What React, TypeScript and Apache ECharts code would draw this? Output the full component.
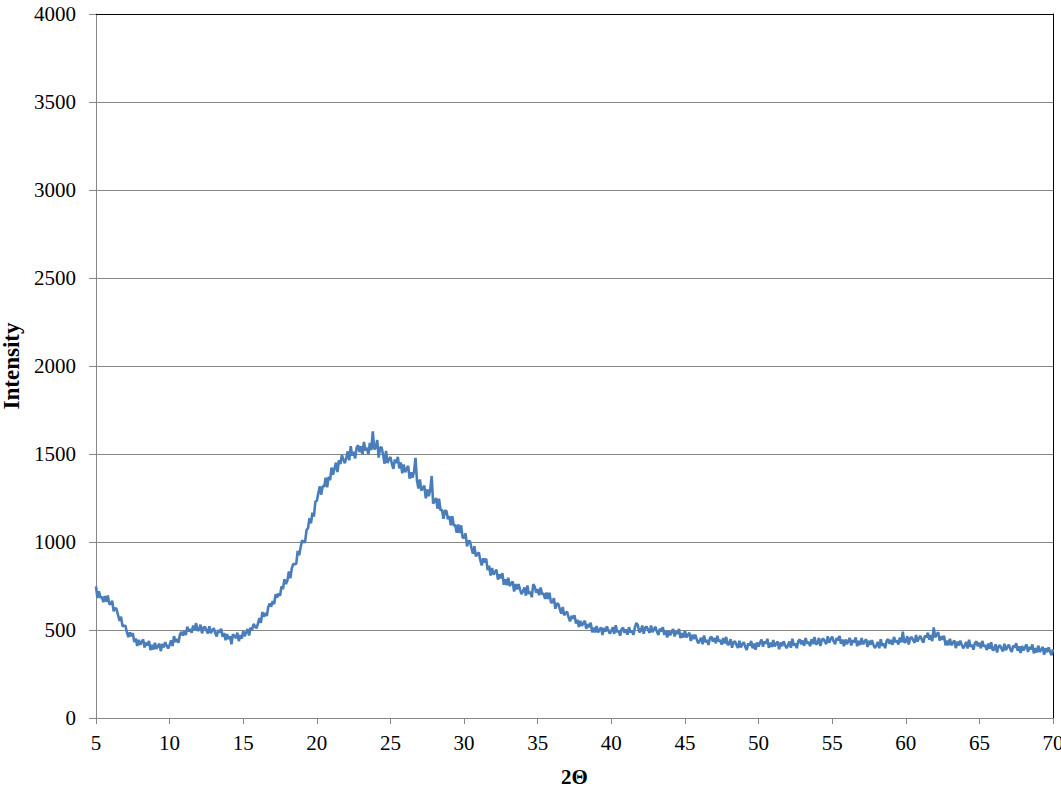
import React, { useEffect, useRef } from "react";
import * as echarts from "echarts";

// Diffraction scan sampled every 0.1° from 5° to 70° (2θ)
const ANGLE_START = 5;
const ANGLE_STEP = 0.1;

// Intensity counts, one row per degree
const INTENSITY: number[] = [
  748, 682, 720, 684, 688, 658, 693, 661, 696, 649, // 5
  646, 666, 606, 626, 618, 584, 551, 576, 522, 524, // 6
  524, 486, 459, 486, 465, 482, 432, 451, 409, 444, // 7
  416, 432, 446, 401, 428, 412, 438, 386, 415, 389, // 8
  428, 392, 408, 422, 380, 420, 401, 431, 411, 395, // 9
  415, 441, 409, 465, 432, 449, 428, 474, 489, 468, // 10
  495, 471, 519, 493, 506, 484, 526, 499, 539, 496, // 11
  501, 530, 481, 513, 518, 497, 480, 521, 482, 499, // 12
  510, 482, 464, 499, 485, 507, 461, 483, 442, 477, // 13
  448, 464, 419, 476, 466, 454, 485, 437, 471, 451, // 14
  495, 464, 485, 505, 469, 514, 499, 534, 520, 510, // 15
  536, 567, 541, 602, 575, 597, 580, 631, 650, 633, // 16
  665, 647, 703, 685, 707, 695, 748, 733, 788, 761, // 17
  781, 833, 794, 851, 876, 873, 876, 949, 925, 970, // 18
  1010, 998, 1000, 1068, 1078, 1135, 1106, 1166, 1144, 1229, // 19
  1235, 1277, 1316, 1269, 1319, 1314, 1366, 1311, 1370, 1351, // 20
  1423, 1382, 1418, 1451, 1397, 1465, 1443, 1493, 1469, 1448, // 21
  1478, 1515, 1464, 1545, 1491, 1512, 1474, 1535, 1550, 1511, // 22
  1544, 1498, 1569, 1520, 1536, 1498, 1563, 1522, 1628, 1526, // 23
  1536, 1579, 1480, 1538, 1537, 1495, 1445, 1518, 1449, 1472, // 24
  1483, 1442, 1416, 1469, 1449, 1484, 1418, 1452, 1390, 1441, // 25
  1396, 1416, 1432, 1360, 1396, 1365, 1399, 1478, 1351, 1304, // 26
  1355, 1292, 1306, 1320, 1248, 1299, 1260, 1295, 1375, 1218, // 27
  1233, 1250, 1188, 1246, 1180, 1183, 1132, 1177, 1178, 1129, // 28
  1147, 1095, 1146, 1094, 1097, 1053, 1099, 1051, 1095, 1025, // 29
  1023, 1049, 975, 1006, 1004, 966, 933, 976, 918, 933, // 30
  940, 897, 867, 907, 883, 906, 841, 866, 810, 852, // 31
  814, 830, 843, 786, 816, 794, 823, 757, 788, 754, // 32
  797, 750, 764, 776, 719, 761, 731, 761, 731, 704, // 33
  720, 742, 695, 753, 705, 718, 686, 760, 746, 712, // 34
  733, 697, 742, 703, 708, 676, 713, 676, 712, 657, // 35
  656, 681, 621, 650, 649, 619, 593, 631, 583, 597, // 36
  603, 571, 549, 581, 564, 584, 537, 558, 517, 552, // 37
  524, 539, 553, 507, 533, 516, 541, 487, 514, 486, // 38
  523, 486, 501, 515, 472, 511, 491, 520, 498, 479, // 39
  495, 516, 478, 527, 487, 497, 468, 506, 513, 484, // 40
  503, 473, 516, 486, 496, 472, 513, 540, 528, 487, // 41
  494, 525, 479, 513, 520, 500, 484, 526, 488, 506, // 42
  518, 490, 472, 507, 493, 516, 472, 496, 458, 496, // 43
  470, 489, 505, 463, 492, 478, 506, 454, 483, 457, // 44
  495, 458, 472, 484, 438, 473, 449, 474, 448, 425, // 45
  437, 456, 419, 469, 431, 443, 415, 454, 462, 434, // 46
  454, 424, 467, 435, 443, 417, 454, 424, 461, 416, // 47
  420, 448, 399, 431, 436, 415, 398, 439, 401, 419, // 48
  431, 404, 387, 424, 412, 438, 396, 423, 388, 429, // 49
  406, 427, 446, 405, 435, 422, 450, 399, 429, 404, // 50
  443, 407, 422, 435, 391, 429, 408, 436, 415, 397, // 51
  413, 435, 399, 450, 412, 424, 397, 437, 446, 419, // 52
  440, 410, 454, 423, 433, 408, 448, 420, 460, 417, // 53
  424, 455, 409, 444, 452, 434, 420, 464, 428, 448, // 54
  462, 436, 419, 455, 442, 466, 422, 446, 408, 446, // 55
  420, 438, 455, 412, 442, 429, 458, 408, 439, 415, // 56
  455, 419, 434, 447, 403, 439, 416, 442, 418, 397, // 57
  411, 432, 396, 447, 410, 423, 397, 438, 448, 422, // 58
  444, 416, 461, 431, 441, 417, 457, 430, 490, 428, // 59
  434, 465, 418, 453, 460, 442, 427, 471, 434, 454, // 60
  467, 443, 429, 468, 458, 485, 444, 471, 437, 515, // 61
  458, 475, 488, 440, 464, 445, 468, 413, 440, 413, // 62
  450, 413, 428, 441, 397, 434, 412, 439, 416, 396, // 63
  411, 432, 395, 445, 405, 416, 388, 427, 435, 407, // 64
  427, 396, 438, 406, 413, 386, 423, 393, 430, 385, // 65
  389, 419, 372, 406, 413, 394, 379, 422, 385, 404, // 66
  417, 391, 375, 412, 400, 425, 382, 407, 370, 409, // 67
  384, 402, 418, 375, 404, 390, 418, 367, 397, 372, // 68
  411, 375, 390, 403, 359, 396, 374, 401, 378, 357, // 69
  390, // 70
];

const X_MIN = 5;
const X_MAX = 70;
const X_INTERVAL = 5;
const Y_MIN = 0;
const Y_MAX = 4000;
const Y_INTERVAL = 500;

const X_NAME = "2Θ";
const Y_NAME = "Intensity";

const FONT = "'Liberation Serif', 'Times New Roman', serif";
const AXIS_GRAY = "#868686";
const LINE_BLUE = "#4a7ebb";

export default function App() {
  const ref = useRef<HTMLDivElement>(null);

  useEffect(() => {
    if (!ref.current) return;
    const chart = echarts.init(ref.current, undefined, { renderer: "svg" });

    const points = INTENSITY.map((v, i) => [
      Number((ANGLE_START + i * ANGLE_STEP).toFixed(1)),
      v,
    ]);

    const plain = (v: number) => String(v);

    chart.setOption({
      animation: false,
      backgroundColor: "#ffffff",
      grid: {
        left: 96,
        top: 14,
        width: 957,
        height: 704,
        containLabel: false,
        outerBoundsMode: "none",
      },
      xAxis: [
        {
          type: "value",
          min: X_MIN,
          max: X_MAX,
          interval: X_INTERVAL,
          name: X_NAME,
          nameLocation: "middle",
          nameGap: 48,
          nameTextStyle: { fontFamily: FONT, fontSize: 21, fontWeight: "bold", color: "#000" },
          axisLine: { show: true, lineStyle: { color: AXIS_GRAY, width: 1 } },
          axisTick: { show: true, length: 6, inside: false, lineStyle: { color: AXIS_GRAY } },
          axisLabel: { fontFamily: FONT, fontSize: 21, color: "#000", margin: 14, formatter: plain },
          splitLine: { show: false },
        },
        {
          type: "value",
          position: "top",
          min: X_MIN,
          max: X_MAX,
          interval: X_INTERVAL,
          axisLine: { show: true, onZero: false, lineStyle: { color: "#000", width: 1 } },
          axisTick: { show: false },
          axisLabel: { show: false },
          splitLine: { show: false },
        },
      ],
      yAxis: [
        {
          type: "value",
          min: Y_MIN,
          max: Y_MAX,
          interval: Y_INTERVAL,
          name: Y_NAME,
          nameLocation: "middle",
          nameGap: 70,
          nameTextStyle: { fontFamily: FONT, fontSize: 23, fontWeight: "bold", color: "#000" },
          axisLine: { show: true, lineStyle: { color: AXIS_GRAY, width: 1 } },
          axisTick: { show: true, length: 7, inside: false, lineStyle: { color: AXIS_GRAY } },
          axisLabel: { fontFamily: FONT, fontSize: 21, color: "#000", margin: 20, formatter: plain },
          splitLine: {
            show: true,
            showMinLine: false,
            showMaxLine: false,
            lineStyle: { color: AXIS_GRAY, width: 1 },
          },
        },
        {
          type: "value",
          position: "right",
          min: Y_MIN,
          max: Y_MAX,
          interval: Y_INTERVAL,
          axisLine: { show: true, onZero: false, lineStyle: { color: "#000", width: 1 } },
          axisTick: { show: false },
          axisLabel: { show: false },
          splitLine: { show: false },
        },
      ],
      series: [
        {
          type: "line",
          xAxisIndex: 0,
          yAxisIndex: 0,
          data: points,
          showSymbol: false,
          symbol: "none",
          lineStyle: { color: LINE_BLUE, width: 2.6 },
          emphasis: { disabled: true },
          z: 3,
        },
      ],
    });

    return () => chart.dispose();
  }, []);

  return (
    <div
      ref={ref}
      style={{ position: "fixed", left: 0, top: 0, width: 1061, height: 793, background: "#fff" }}
    />
  );
}
